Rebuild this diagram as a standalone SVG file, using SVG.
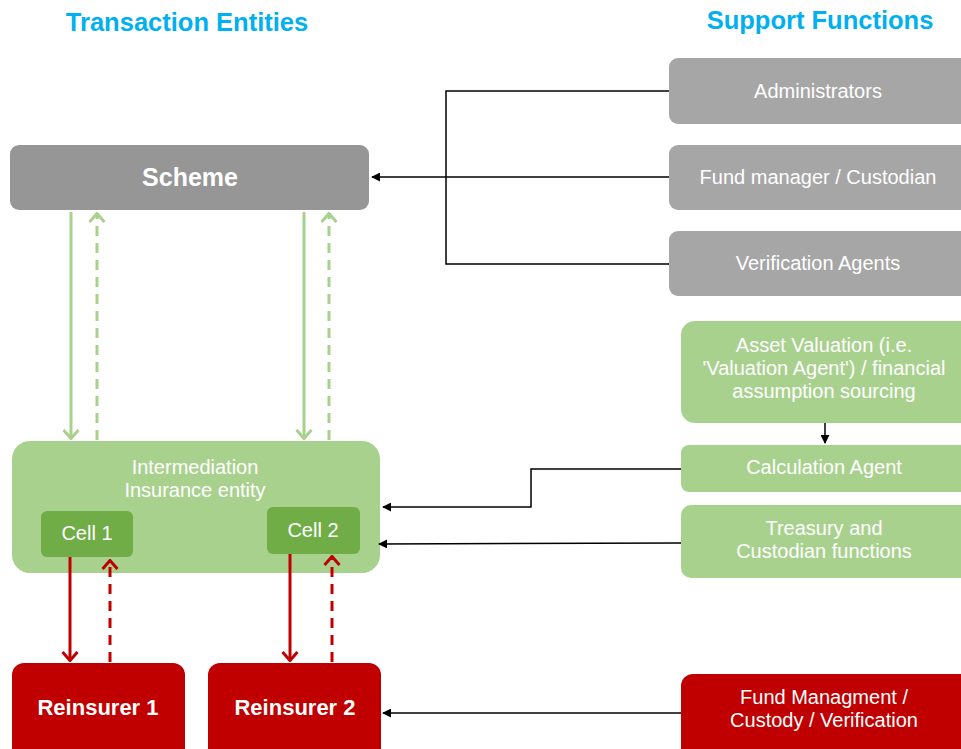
<svg xmlns="http://www.w3.org/2000/svg" width="961" height="749" viewBox="0 0 961 749">
<defs>
<style>
.t{font-family:"Liberation Sans",Arial,sans-serif;fill:#fff;text-anchor:middle}
.title{font-family:"Liberation Sans",Arial,sans-serif;font-weight:bold;font-size:25.5px;fill:#00B0F0;text-anchor:middle}
.b{font-weight:bold;font-size:22px}
.s{font-weight:bold;font-size:25px}
.n{font-size:20px}
.k{fill:none;stroke:#000;stroke-width:1.5}
.g{fill:none;stroke:#A9D18E;stroke-width:3}
.r{fill:none;stroke:#C00000;stroke-width:3}
.d{stroke-dasharray:10,7}
</style>
<marker id="ak" viewBox="0 0 10 10" refX="9" refY="5" markerWidth="9" markerHeight="9" markerUnits="userSpaceOnUse" orient="auto"><path d="M0,0 L10,5 L0,10 Z" fill="#000"/></marker>
<marker id="ag" viewBox="0 0 12 18" refX="11" refY="9" markerWidth="12" markerHeight="18" markerUnits="userSpaceOnUse" orient="auto"><path d="M2,1.5 L10.5,9 L2,16.5" fill="none" stroke="#A9D18E" stroke-width="3"/></marker>
<marker id="ar" viewBox="0 0 12 18" refX="11" refY="9" markerWidth="12" markerHeight="18" markerUnits="userSpaceOnUse" orient="auto"><path d="M2,1.5 L10.5,9 L2,16.5" fill="none" stroke="#C00000" stroke-width="3"/></marker>
</defs>
<rect width="961" height="749" fill="#fff"/>
<text class="title" x="187" y="31">Transaction Entities</text>
<text class="title" x="820" y="29">Support Functions</text>

<g id="scheme"><rect x="10" y="145" width="359" height="65" rx="9" fill="#969696"/><text class="t s" x="190" y="186">Scheme</text></g>
<g id="administrators"><rect x="669" y="58" width="300" height="66" rx="9" fill="#A6A6A6"/><text class="t n" x="818" y="98">Administrators</text></g>
<g id="fund-manager"><rect x="669" y="145" width="300" height="65" rx="9" fill="#A6A6A6"/><text class="t n" x="818" y="184">Fund manager / Custodian</text></g>
<g id="verification"><rect x="669" y="231" width="300" height="65" rx="9" fill="#A6A6A6"/><text class="t n" x="818" y="270">Verification Agents</text></g>

<g id="intermediation"><rect x="12" y="441" width="368" height="132" rx="18" fill="#A9D18E"/><text class="t n" x="195" y="474">Intermediation</text><text class="t n" x="195" y="497">Insurance entity</text></g>
<g id="cell1"><rect x="41" y="511" width="92" height="46" rx="6" fill="#70AD47"/><text class="t n" x="87" y="540">Cell 1</text></g>
<g id="cell2"><rect x="267" y="507" width="93" height="47" rx="6" fill="#70AD47"/><text class="t n" x="313" y="537">Cell 2</text></g>

<g id="reinsurer1"><rect x="12" y="663" width="173" height="100" rx="12" fill="#C00000"/><text class="t b" x="98" y="715">Reinsurer 1</text></g>
<g id="reinsurer2"><rect x="208" y="663" width="173" height="100" rx="12" fill="#C00000"/><text class="t b" x="295" y="715">Reinsurer 2</text></g>

<g id="asset-valuation"><rect x="681" y="321" width="300" height="102" rx="14" fill="#A9D18E"/><text class="t n" x="824" y="352">Asset Valuation (i.e.</text><text class="t n" x="824" y="375">'Valuation Agent') / financial</text><text class="t n" x="824" y="398">assumption sourcing</text></g>
<g id="calculation-agent"><rect x="681" y="445" width="300" height="47" rx="8" fill="#A9D18E"/><text class="t n" x="824" y="474">Calculation Agent</text></g>
<g id="treasury"><rect x="681" y="505" width="300" height="73" rx="10" fill="#A9D18E"/><text class="t n" x="824" y="535">Treasury and</text><text class="t n" x="824" y="558">Custodian functions</text></g>
<g id="fund-managment"><rect x="681" y="674" width="300" height="90" rx="12" fill="#C00000"/><text class="t n" x="824" y="704">Fund Managment /</text><text class="t n" x="824" y="727">Custody / Verification</text></g>

<g id="connectors">
<path class="k" d="M669,91 H446 V264 H669"/>
<path class="k" d="M669,177 H372" marker-end="url(#ak)"/>
<path class="k" d="M825,423 V443" marker-end="url(#ak)"/>
<path class="k" d="M681,469 H531 V507 H383" marker-end="url(#ak)"/>
<path class="k" d="M681,543 L379,544" marker-end="url(#ak)"/>
<path class="k" d="M681,713 H383" marker-end="url(#ak)"/>
<path class="g" d="M71,212 V439" marker-end="url(#ag)"/>
<path class="g d" d="M97,440 V213" marker-end="url(#ag)"/>
<path class="g" d="M304,212 V439" marker-end="url(#ag)"/>
<path class="g d" d="M329,440 V213" marker-end="url(#ag)"/>
<path class="r" d="M70,557 V661" marker-end="url(#ar)"/>
<path class="r d" d="M110,662 V560" marker-end="url(#ar)"/>
<path class="r" d="M290,554 V661" marker-end="url(#ar)"/>
<path class="r d" d="M332,662 V556" marker-end="url(#ar)"/>
</g>
</svg>
